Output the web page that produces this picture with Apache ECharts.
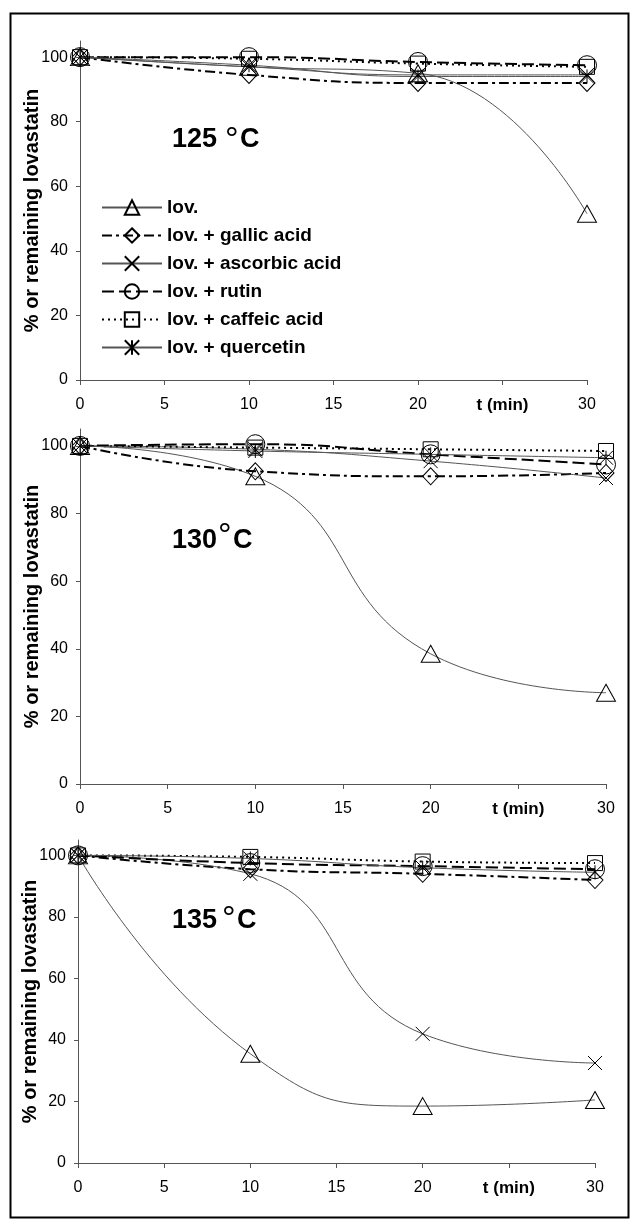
<!DOCTYPE html>
<html>
<head>
<meta charset="utf-8">
<script src="https://cdn.jsdelivr.net/npm/echarts@6/dist/echarts.min.js"></script>
<style>
html, body { margin: 0; padding: 0; background: #fff; }
#container { width: 635px; height: 1224px; }
</style>
</head>
<body>
<div id="container"></div>
<script>
var dom = document.getElementById('container');
var myChart = echarts.init(dom);

// sampling times (min)
var times = [0, 10, 20, 30];
var seriesNames = ['lov.', 'lov. + gallic acid', 'lov. + ascorbic acid', 'lov. + rutin', 'lov. + caffeic acid', 'lov. + quercetin'];
var tempLabels = ['125', '130', '135'];
var yTicks = [0, 20, 40, 60, 80, 100];

// % of remaining lovastatin, 125 C
var lov125 = [100, 97, 95, 51.5];
var gallic125 = [100, 94.5, 92, 92];
var ascorbic125 = [100, 97, 94.5, 94.5];
var rutin125 = [100, 100, 98.5, 97.5];
var caffeic125 = [100, 99.5, 98, 97];
var quercetin125 = [100, 97.5, 94, 94];

// 130 C
var lov130 = [100, 91, 38.5, 27];
var gallic130 = [100, 92.5, 91, 92];
var ascorbic130 = [100, 99, 95.5, 90.5];
var rutin130 = [100, 100.5, 97.5, 94.5];
var caffeic130 = [100, 99.5, 99, 98.5];
var quercetin130 = [100, 98.5, 97.5, 96.5];

// 135 C
var lov135 = [100, 35.5, 18.5, 20.5];
var gallic135 = [100, 95.5, 94, 92];
var ascorbic135 = [100, 94, 42, 32.5];
var rutin135 = [100, 97.5, 96.5, 95.5];
var caffeic135 = [100, 99.5, 98, 97.5];
var quercetin135 = [100, 99, 96, 94.5];

var panels = [
    [lov125, gallic125, ascorbic125, rutin125, caffeic125, quercetin125],
    [lov130, gallic130, ascorbic130, rutin130, caffeic130, quercetin130],
    [lov135, gallic135, ascorbic135, rutin135, caffeic135, quercetin135]
];

// marker / line look of each series (Excel black & white)
var looks = [
    {symbol: 'triangle', size: [19, 17], dash: 'solid', width: 1, color: '#555'},
    {symbol: 'diamond', size: [16, 17], dash: [10, 4, 3, 4], width: 2, color: '#000'},
    {symbol: 'path://M0,0L10,10M10,0L0,10', size: 14, dash: 'solid', width: 1, color: '#555'},
    {symbol: 'circle', size: 19, dash: [12, 5], width: 2, color: '#000'},
    {symbol: 'rect', size: 15, dash: [2, 4], width: 2, color: '#000'},
    {symbol: 'path://M0,0L10,10M10,0L0,10M5,0L5,10', size: 14, dash: 'solid', width: 1, color: '#555'}
];

var grids = [
    {left: 80, right: 48, top: 41, height: 339},
    {left: 80, right: 29, top: 429, height: 355},
    {left: 78, right: 40, top: 840, height: 323}
];

var font = 'Liberation Sans, Arial, Helvetica, sans-serif';
var xAxes = [], yAxes = [], series = [];

grids.forEach(function (g, i) {
    xAxes.push({
        gridIndex: i, type: 'value', min: 0, max: 30, interval: 5,
        axisLine: {lineStyle: {color: '#555', width: 1}},
        axisTick: {length: 5, lineStyle: {color: '#555'}},
        splitLine: {show: false},
        axisLabel: {
            margin: 17, color: '#000', fontSize: 16, fontFamily: font,
            formatter: function (v) { return v === 25 ? '{b|t (min)}' : v; },
            rich: {b: {fontWeight: 'bold', fontSize: 17, fontFamily: font, color: '#000'}}
        }
    });
    yAxes.push({
        gridIndex: i, type: 'value', min: 0, max: 105, interval: 20,
        name: '% or remaining lovastatin', nameLocation: 'middle', nameGap: 38,
        nameMoveOverlap: false,
        nameTextStyle: {fontWeight: 'bold', fontSize: 20, fontFamily: font, color: '#000'},
        axisLine: {show: true, lineStyle: {color: '#555', width: 1}},
        axisTick: {show: true, length: 4, customValues: yTicks, lineStyle: {color: '#555'}},
        splitLine: {show: false},
        axisLabel: {
            margin: 12, color: '#000', fontSize: 16, fontFamily: font, customValues: yTicks,
            formatter: function (v) { return v % 20 === 0 ? v : ''; }
        }
    });
    panels[i].forEach(function (vals, k) {
        var lk = looks[k];
        series.push({
            name: seriesNames[k], type: 'line', xAxisIndex: i, yAxisIndex: i,
            data: times.map(function (t, j) { return [t, vals[j]]; }),
            smooth: true, clip: false,
            symbol: lk.symbol, symbolSize: lk.size, symbolKeepAspect: true,
            lineStyle: {type: lk.dash, width: lk.width, color: lk.color},
            itemStyle: {color: 'transparent', borderColor: '#000', borderWidth: 1},
            emphasis: {disabled: true}
        });
    });
});

var tempPos = [
    {x: 172, y: 141, dx: 225, dy: 124, cx: 240},
    {x: 172, y: 542, dx: 218, dy: 520, cx: 233},
    {x: 172, y: 922, dx: 222, dy: 903, cx: 237}
];
var graphics = [{
    type: 'rect', left: 8, top: 11, shape: {width: 618, height: 1204},
    style: {fill: 'none', stroke: '#000', lineWidth: 2}, silent: true
}];
tempPos.forEach(function (p, i) {
    graphics.push({type: 'text', left: p.x, top: p.y - 15, style: {text: tempLabels[i], font: 'bold 27px ' + font, fill: '#000'}});
    graphics.push({type: 'text', left: p.dx, top: p.dy, style: {text: '°', font: '34px ' + font, fill: '#000'}});
    graphics.push({type: 'text', left: p.cx, top: p.y - 15, style: {text: 'C', font: 'bold 27px ' + font, fill: '#000'}});
});

myChart.setOption({
    animation: false,
    backgroundColor: '#fff',
    grid: grids,
    xAxis: xAxes,
    yAxis: yAxes,
    legend: {
        data: seriesNames, orient: 'vertical', left: 96, top: 193,
        itemWidth: 60, itemHeight: 18, itemGap: 9,
        textStyle: {fontWeight: 'bold', fontSize: 19, fontFamily: font, color: '#000'},
        selectedMode: false
    },
    graphic: graphics,
    series: series
});
</script>
</body>
</html>
